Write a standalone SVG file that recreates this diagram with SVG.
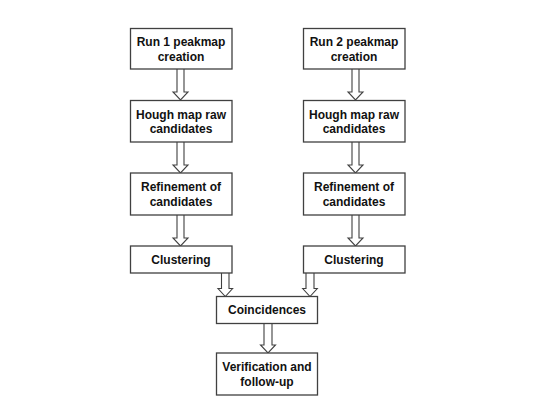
<svg xmlns="http://www.w3.org/2000/svg" width="545" height="409" viewBox="0 0 545 409">
<style>
.box{fill:#fff;stroke:#404040;stroke-width:1.3}
.arr{fill:#fff;stroke:#404040;stroke-width:1.1;stroke-linejoin:miter}
text{font-family:"Liberation Sans",Arial,sans-serif;font-weight:bold;font-size:12px;fill:#111;text-anchor:middle}
</style>
<rect width="545" height="409" fill="#fff"/>
<g id="connectors">
<path class="arr" d="M177,69 V92 H173 L180.5,100 L188,92 H184 V69"/>
<path class="arr" d="M177,142 V165 H173 L180.5,173 L188,165 H184 V142"/>
<path class="arr" d="M177,215 V238 H173 L180.5,246 L188,238 H184 V215"/>
<path class="arr" d="M352,69 V92 H348 L355.5,100 L363,92 H359 V69"/>
<path class="arr" d="M352,142 V165 H348 L355.5,173 L363,165 H359 V142"/>
<path class="arr" d="M352,215 V238 H348 L355.5,246 L363,238 H359 V215"/>
<path class="arr" d="M221.5,273 V288.5 H218 L225.3,296.5 L232.6,288.5 H229 V273"/>
<path class="arr" d="M306,273 V288.5 H302.7 L310,296.5 L317.3,288.5 H314 V273"/>
<path class="arr" d="M264,323 V345 H260.5 L268,353 L275.5,345 H272 V323"/>
</g>
<g id="run1"><rect class="box" x="130.5" y="28.5" width="101.5" height="40.5"/><text x="181" y="46">Run 1 peakmap</text><text x="181" y="60.5">creation</text></g>
<g id="hough1"><rect class="box" x="130.5" y="100.5" width="101.5" height="41.5"/><text x="181" y="118.5">Hough map raw</text><text x="181" y="133">candidates</text></g>
<g id="refine1"><rect class="box" x="130.5" y="173" width="101.5" height="42"/><text x="181" y="191">Refinement of</text><text x="181" y="205.5">candidates</text></g>
<g id="cluster1"><rect class="box" x="130.5" y="246" width="101.5" height="27"/><text x="181" y="264">Clustering</text></g>
<g id="run2"><rect class="box" x="303.5" y="28.5" width="101.5" height="40.5"/><text x="354" y="46">Run 2 peakmap</text><text x="354" y="60.5">creation</text></g>
<g id="hough2"><rect class="box" x="303.5" y="100.5" width="101.5" height="41.5"/><text x="354" y="118.5">Hough map raw</text><text x="354" y="133">candidates</text></g>
<g id="refine2"><rect class="box" x="303.5" y="173" width="101.5" height="42"/><text x="354" y="191">Refinement of</text><text x="354" y="205.5">candidates</text></g>
<g id="cluster2"><rect class="box" x="303.5" y="246" width="101.5" height="27"/><text x="354" y="264">Clustering</text></g>
<g id="coinc"><rect class="box" x="216.5" y="296.5" width="101" height="27"/><text x="267" y="314">Coincidences</text></g>
<g id="verif"><rect class="box" x="216.5" y="353" width="101" height="42"/><text x="267" y="371">Verification and</text><text x="267" y="385.5">follow-up</text></g>
</svg>
